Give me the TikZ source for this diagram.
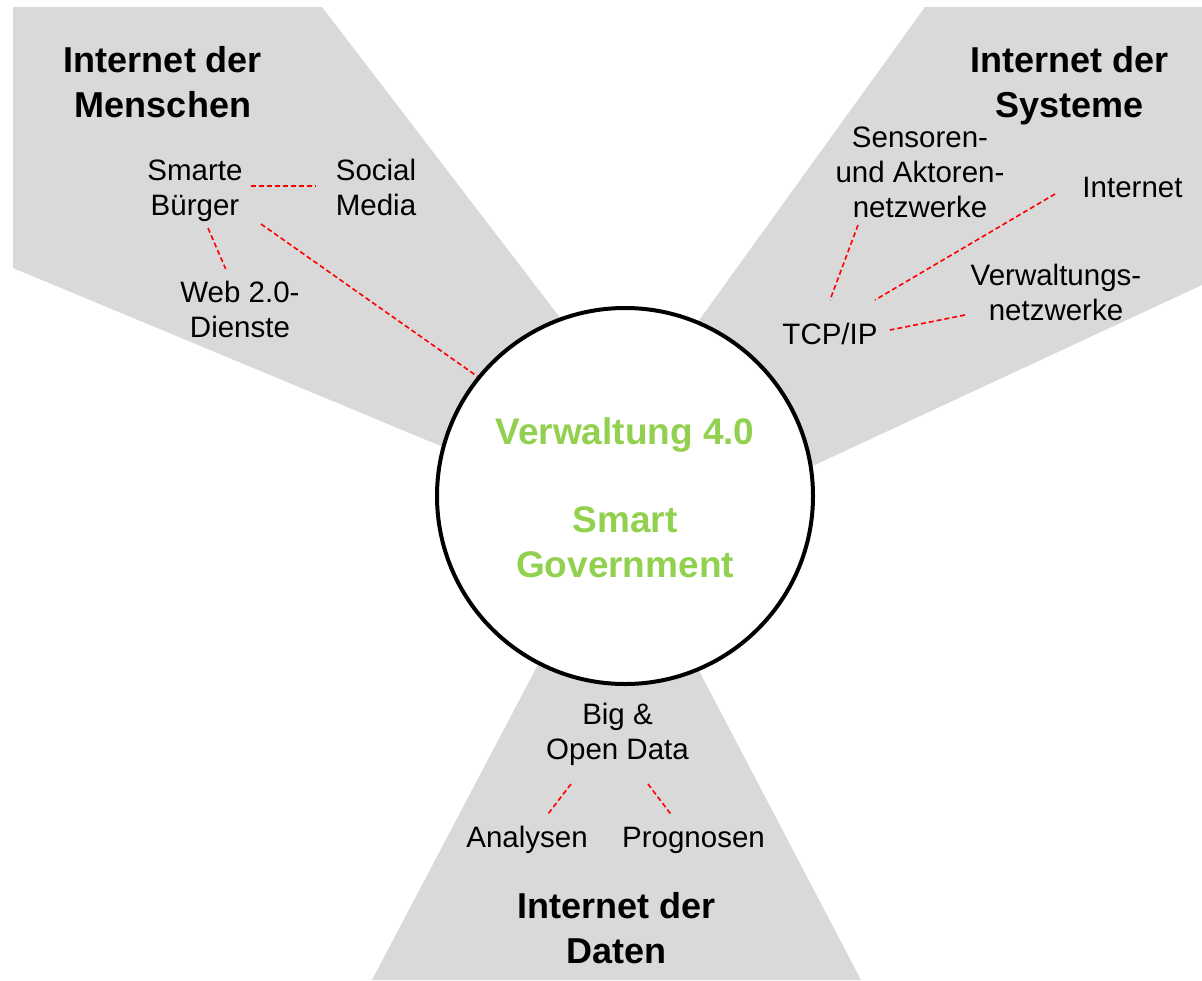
\documentclass[tikz,border=0pt]{standalone}
\usepackage{fontspec}
\setmainfont{Liberation Sans}
\definecolor{sectorgrey}{HTML}{D9D9D9}
\definecolor{govgreen}{HTML}{92D050}
% centred multi-line text whose baseline is that of its first line
\newcommand\stackedtext[1]{\begin{tabular}[t]{@{}c@{}}#1\end{tabular}}

\begin{document}
\begin{tikzpicture}[x=1pt,y=-1pt,
  itemtext/.style={anchor=base, inner sep=0pt, font=\fontsize{29.5}{35}\selectfont},
  headtext/.style={anchor=base, inner sep=0pt, font=\fontsize{36}{45.5}\selectfont\bfseries},
  tie/.style={draw=red, line width=1.6pt, dash pattern=on 5pt off 3pt},
  sectorfill/.style={fill=sectorgrey, draw=none}]

\useasboundingbox (0,0) rectangle (1202,980);
\fill[white] (0,0) rectangle (1202,980);

% the three grey sectors behind the central circle
\fill[sectorfill] (13,7) -- (322,7) -- (623,400) -- (520,479) -- (13,268) -- cycle;
\fill[sectorfill] (925,7) -- (1202,7) -- (1202,285) -- (720,509) -- (656,380) -- cycle;
\fill[sectorfill] (372,980) -- (572,600) -- (662,600) -- (861,980) -- cycle;

% central circle
\node[draw, circle, line width=4pt, fill=white, minimum size=376pt, inner sep=0pt] (core) at (625,496) {};
\node[anchor=base, inner sep=0pt, text=govgreen, font=\fontsize{37}{44.4}\selectfont\bfseries]
  (coretext) at (625,444) {\stackedtext{Verwaltung 4.0\\ \\Smart\\Government}};

% headings
\node[headtext] (hmen) at (163,72) {\stackedtext{Internet der\\Menschen}};
\node[headtext] (hsys) at (1069.5,72) {\stackedtext{Internet der\\Systeme}};
\node[headtext] (hdat) at (616.5,918) {\stackedtext{Internet der\\Daten}};

% Internet der Menschen
\node[itemtext] (sb) at (195,180) {\stackedtext{Smarte\\Bürger}};
\node[itemtext] (sm) at (376,180) {\stackedtext{Social\\Media}};
\node[itemtext] (web) at (240,302) {\stackedtext{Web 2.0-\\Dienste}};

% Internet der Systeme
\node[itemtext] (sens) at (920,147.5) {\stackedtext{Sensoren-\\und Aktoren-\\netzwerke}};
\node[itemtext] (inet) at (1132.5,197.5) {Internet};
\node[itemtext] (verw) at (1056,285) {\stackedtext{Verwaltungs-\\netzwerke}};
\node[itemtext] (tcp) at (830,344) {TCP/IP};

% Internet der Daten
\node[itemtext] (big) at (617.5,724.5) {\stackedtext{Big \&\\Open Data}};
\node[itemtext] (ana) at (527,847) {Analysen};
\node[itemtext] (prog) at (693.5,847) {Prognosen};

% dashed links
\draw[tie] ([shift={(56,6)}]sb.base) -- ([shift={(-60,6)}]sm.base);
\draw[tie] ([shift={(13,48)}]sb.base) -- ([shift={(-14.3,-33)}]web.base);
\draw[tie] ([shift={(66,44)}]sb.base) -- (core.141);
\draw[tie] ([shift={(-62,77.5)}]sens.base) -- ([shift={(0,-44)}]tcp.base);
\draw[tie] ([shift={(-77.5,-3.5)}]inet.base) -- ([shift={(45,-44)}]tcp.base);
\draw[tie] ([shift={(-91,30)}]verw.base) -- ([shift={(60,-14)}]tcp.base);
\draw[tie] ([shift={(-46.5,59.5)}]big.base) -- ([shift={(21,-33)}]ana.base);
\draw[tie] ([shift={(30.5,59.5)}]big.base) -- ([shift={(-22.8,-33)}]prog.base);
\end{tikzpicture}
\end{document}
